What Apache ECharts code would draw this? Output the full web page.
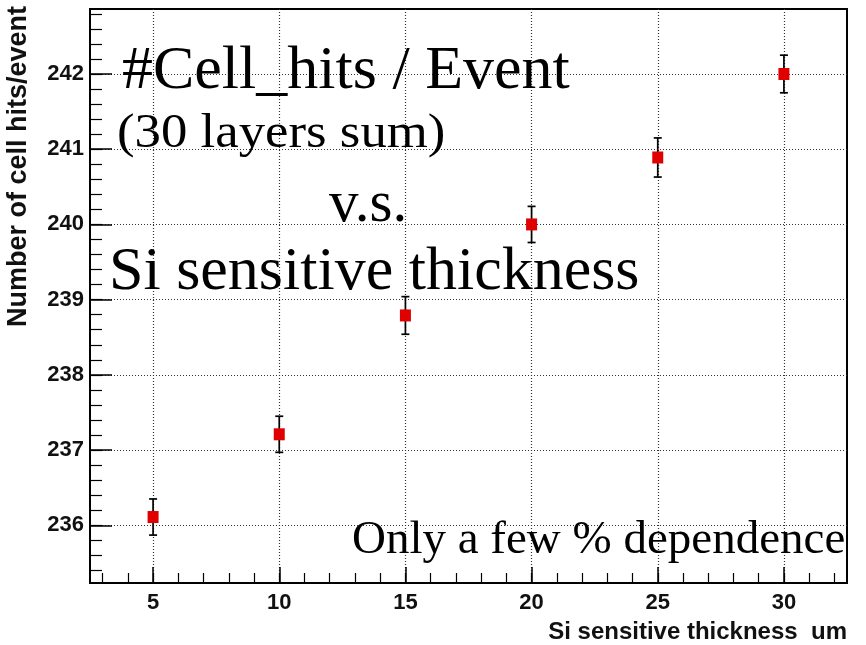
<!DOCTYPE html>
<html>
<head>
<meta charset="utf-8">
<script src="https://cdn.jsdelivr.net/npm/echarts@6/dist/echarts.min.js"></script>
<style>html,body{margin:0;padding:0;background:#fff;}#c{width:866px;height:645px;}</style>
</head>
<body>
<div id="c"></div>
<script>
// ---- data ----
const thickness = [5, 10, 15, 20, 25, 30];
const cellHits = [236.11, 237.21, 238.79, 240.0, 240.89, 242.0];
const hitErrors = [0.24, 0.24, 0.25, 0.24, 0.26, 0.25];

// ---- tick labels ----
const xTickValues = [5, 10, 15, 20, 25, 30];
const yTickValues = [236, 237, 238, 239, 240, 241, 242];
const xMinorTicks = [3,4,5,6,7,8,9,10,11,12,13,14,15,16,17,18,19,20,21,22,23,24,25,26,27,28,29,30,31,32];
const yMinorTicks = [235.4,235.6,235.8,236,236.2,236.4,236.6,236.8,237,237.2,237.4,237.6,237.8,238,238.2,238.4,238.6,238.8,239,239.2,239.4,239.6,239.8,240,240.2,240.4,240.6,240.8,241,241.2,241.4,241.6,241.8,242,242.2,242.4,242.6,242.8];

const xTitle = 'Si sensitive thickness  um';
const yTitle = 'Number of cell hits/event';
const overlayTexts = ['#Cell_hits / Event', '(30 layers sum)', 'v.s.', 'Si sensitive thickness', 'Only a few % dependence'];

const X_MIN = 2.5, X_MAX = 32.5, Y_MIN = 235.233, Y_MAX = 242.864;

const chart = echarts.init(document.getElementById('c'), null, {renderer: 'canvas'});

const labelFont = {fontFamily: 'Liberation Sans', fontWeight: 'bold', fontSize: 22, color: '#111'};
const gridLine = {show: true, lineStyle: {color: '#333', type: [1, 2], width: 1.2}};
const serif = 'Liberation Serif';

const errData = thickness.map((t, i) => [t, cellHits[i], hitErrors[i]]);
const ptData = thickness.map((t, i) => [t, cellHits[i]]);

chart.setOption({
  backgroundColor: '#fff',
  animation: false,
  grid: {left: 90, right: 19, top: 9, bottom: 62, show: true, borderColor: '#000', borderWidth: 2, backgroundColor: 'transparent'},
  xAxis: [
    {
      type: 'value', min: X_MIN, max: X_MAX, position: 'bottom',
      axisLine: {show: true, onZero: false, lineStyle: {color: '#000', width: 2}},
      axisTick: {show: true, inside: true, length: 16, customValues: xTickValues, lineStyle: {color: '#000', width: 1.5}},
      axisLabel: Object.assign({show: true, margin: 9, customValues: xTickValues, formatter: v => String(v)}, labelFont),
      splitLine: gridLine
    },
    {
      type: 'value', min: X_MIN, max: X_MAX, position: 'bottom',
      axisLine: {show: false, onZero: false},
      axisTick: {show: true, inside: true, length: 10, customValues: xMinorTicks, lineStyle: {color: '#000', width: 1.2}},
      axisLabel: {show: false},
      splitLine: {show: false}
    }
  ],
  yAxis: [
    {
      type: 'value', min: Y_MIN, max: Y_MAX, position: 'left',
      axisLine: {show: true, onZero: false, lineStyle: {color: '#000', width: 2}},
      axisTick: {show: true, inside: true, length: 22, customValues: yTickValues, lineStyle: {color: '#000', width: 1.5}},
      axisLabel: Object.assign({show: true, margin: 6, customValues: yTickValues, formatter: v => String(Math.round(v))}, labelFont),
      splitLine: gridLine
    },
    {
      type: 'value', min: Y_MIN, max: Y_MAX, position: 'left',
      axisLine: {show: false, onZero: false},
      axisTick: {show: true, inside: true, length: 12, customValues: yMinorTicks, lineStyle: {color: '#000', width: 1.2}},
      axisLabel: {show: false},
      splitLine: {show: false}
    }
  ],
  series: [
    {
      type: 'custom', xAxisIndex: 0, yAxisIndex: 0, z: 3,
      data: errData,
      renderItem: function (params, api) {
        const x = api.value(0), y = api.value(1), e = api.value(2);
        const top = api.coord([x, y + e]);
        const bot = api.coord([x, y - e]);
        const hw = 4;
        const st = {stroke: '#000', lineWidth: 1.7};
        return {type: 'group', children: [
          {type: 'line', shape: {x1: top[0], y1: top[1], x2: bot[0], y2: bot[1]}, style: st},
          {type: 'line', shape: {x1: top[0] - hw, y1: top[1], x2: top[0] + hw, y2: top[1]}, style: st},
          {type: 'line', shape: {x1: bot[0] - hw, y1: bot[1], x2: bot[0] + hw, y2: bot[1]}, style: st}
        ]};
      }
    },
    {
      type: 'scatter', xAxisIndex: 0, yAxisIndex: 0, z: 4,
      symbol: 'rect', symbolSize: [11, 12],
      itemStyle: {color: '#e00000', opacity: 1},
      data: ptData
    }
  ],
  graphic: [
    {type: 'text', x: 19, y: 6, rotation: Math.PI / 2, z: 10,
     style: {text: yTitle, fontFamily: 'Liberation Sans', fontWeight: 'bold', fontSize: 27, fill: '#111', align: 'right', verticalAlign: 'middle'}},
    {type: 'text', x: 847, y: 632, z: 10,
     style: {text: xTitle, fontFamily: 'Liberation Sans', fontWeight: 'bold', fontSize: 24, fill: '#111', align: 'right', verticalAlign: 'middle'}},
    {type: 'text', x: 122, y: 72, z: 10,
     style: {text: overlayTexts[0], fontFamily: serif, fontSize: 62, fill: '#000', align: 'left', verticalAlign: 'middle'}},
    {type: 'text', x: 117, y: 134, z: 10, scaleX: 1.1,
     style: {text: overlayTexts[1], fontFamily: serif, fontSize: 48, fill: '#000', align: 'left', verticalAlign: 'middle'}},
    {type: 'text', x: 329, y: 205, z: 10,
     style: {text: overlayTexts[2], fontFamily: serif, fontSize: 59, fill: '#000', align: 'left', verticalAlign: 'middle'}},
    {type: 'text', x: 109, y: 273, z: 10,
     style: {text: overlayTexts[3], fontFamily: serif, fontSize: 62, fill: '#000', align: 'left', verticalAlign: 'middle'}},
    {type: 'text', x: 352, y: 541, z: 10,
     style: {text: overlayTexts[4], fontFamily: serif, fontSize: 47, fill: '#000', align: 'left', verticalAlign: 'middle'}}
  ]
});
</script>
</body>
</html>
